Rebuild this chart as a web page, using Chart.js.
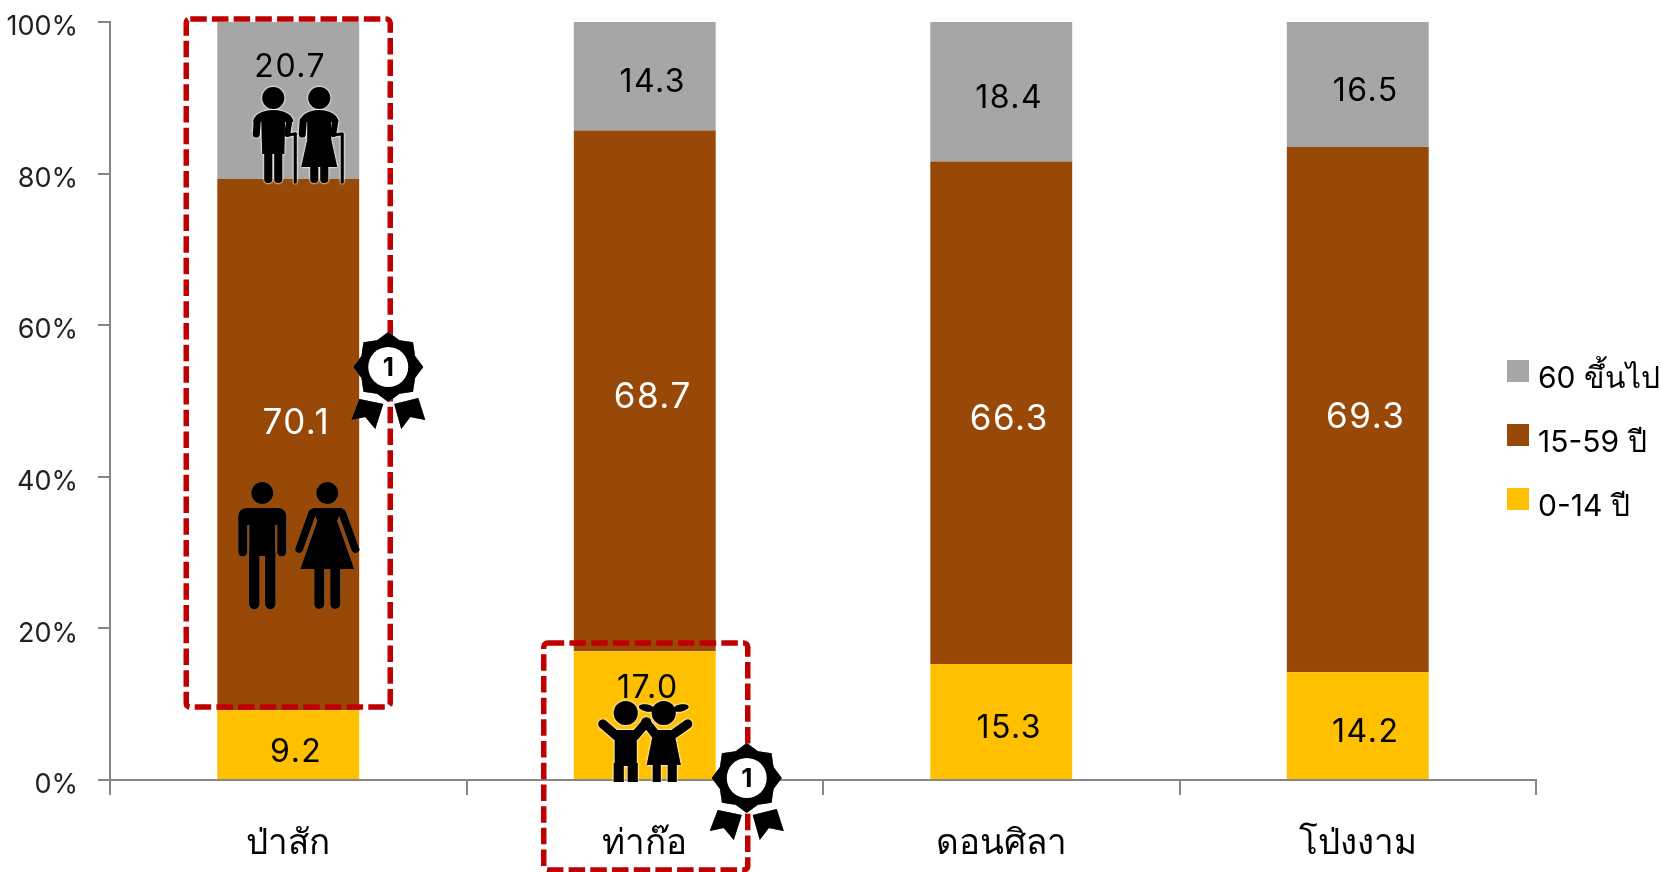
<!DOCTYPE html>
<html>
<head>
<meta charset="utf-8">
<style>
html,body{margin:0;padding:0;background:#fff;overflow:hidden}
#wrap{width:1661px;height:872px}
</style>
<script src="https://cdn.jsdelivr.net/npm/chart.js@4"></script>
</head>
<body>
<div id="wrap"><canvas id="popChart" width="1661" height="872"></canvas></div>
<script>
const districts = ["ป่าสัก","ท่าก๊อ","ดอนศิลา","โป่งงาม"]
const age0to14 = [9.2,17.0,15.3,14.2]
const age15to59 = [70.1,68.7,66.3,69.3]
const age60up = [20.7,14.3,18.4,16.5]
const seriesNames = ["0-14 ปี","15-59 ปี","60 ขึ้นไป"]
const seriesColors = ["#FFC000","#984807","#A6A6A6"]
const labelColors = ["#000","#fff","#000"]
const labelSizes = [32,35,32]

const FONT = 'Inter,"Noto Sans","DejaVu Sans",sans-serif'

// label nudges off the segment centre, [series][category], px
const nudge = [
  [[8,8],[3,-27],[8,7],[8,7]],
  [[8,-21],[8,7],[8,7],[8,8]],
  [[2,-33],[8,6],[8,7],[8,7]]
]

function limb(ctx,x1,y1,x2,y2,w){
  ctx.lineWidth = w
  ctx.lineCap = "round"
  ctx.beginPath()
  ctx.moveTo(x1,y1)
  ctx.lineTo(x2,y2)
  ctx.stroke()
}

function head(ctx,x,y,r){
  ctx.beginPath()
  ctx.arc(x,y,r,0,Math.PI*2)
  ctx.fill()
}

function poly(ctx,pts){
  ctx.beginPath()
  pts.forEach((p,i)=> i ? ctx.lineTo(p[0],p[1]) : ctx.moveTo(p[0],p[1]))
  ctx.closePath()
  ctx.fill()
}

// draw an icon on its own layer so the pale outline goes round the whole shape
function halo(ctx,color,blur,fn){
  let layer = document.createElement("canvas")
  layer.width = ctx.canvas.width
  layer.height = ctx.canvas.height
  let c = layer.getContext("2d")
  c.fillStyle = "#000"
  c.strokeStyle = "#000"
  fn(c)
  ctx.save()
  ctx.shadowColor = color
  ctx.shadowBlur = blur
  ctx.drawImage(layer,0,0)
  ctx.drawImage(layer,0,0)
  ctx.restore()
}

// adult pair, x/y = man's head
function drawAdults(ctx,x,y){
  head(ctx,x,y,11)
  ctx.beginPath()
  ctx.roundRect(x-24,y+15,48,17,8)
  ctx.fill()
  ctx.fillRect(x-13,y+25,26,38)
  limb(ctx,x-19.5,y+25,x-19.5,y+59,9)
  limb(ctx,x+19.5,y+25,x+19.5,y+59,9)
  limb(ctx,x-8,y+60,x-8,y+111,10.5)
  limb(ctx,x+8,y+60,x+8,y+111,10.5)
  let w = x+65
  head(ctx,w,y,11)
  poly(ctx,[[w-15,y+15],[w+15,y+15],[w+10,y+28],[w+27,y+76],[w-27,y+76],[w-10,y+28]])
  limb(ctx,w-15,y+20,w-28,y+56,8)
  limb(ctx,w+15,y+20,w+28,y+56,8)
  limb(ctx,w-8,y+74,w-8,y+111,10)
  limb(ctx,w+8,y+74,w+8,y+111,10)
}

// elderly pair with canes
function drawElders(ctx,x,y){
  head(ctx,x,y,11)
  ctx.beginPath()
  ctx.ellipse(x,y+24,20,12,0,Math.PI,0)
  ctx.fill()
  poly(ctx,[[x-12,y+20],[x+12,y+20],[x+11,y+56],[x-11,y+56]])
  limb(ctx,x-16,y+23,x-17,y+36,7)
  limb(ctx,x+16,y+23,x+14,y+36,6)
  limb(ctx,x+14,y+37,x+22,y+36,3)
  limb(ctx,x-5,y+52,x-5,y+81,8)
  limb(ctx,x+5,y+52,x+5,y+81,8)
  limb(ctx,x+22,y+36,x+22,y+84,3)
  let w = x+46
  head(ctx,w,y,11)
  ctx.beginPath()
  ctx.ellipse(w,y+24,19,12,0,Math.PI,0)
  ctx.fill()
  poly(ctx,[[w-12,y+20],[w+12,y+20],[w+12,y+42],[w+18,y+69],[w-18,y+69],[w-12,y+42]])
  limb(ctx,w-16,y+23,w-17,y+36,7)
  limb(ctx,w+16,y+23,w+14,y+36,6)
  limb(ctx,w+14,y+37,w+22,y+36,3)
  limb(ctx,w-5,y+67,w-5,y+81,8)
  limb(ctx,w+5,y+67,w+5,y+81,8)
  limb(ctx,w+23,y+36,w+23,y+84,3)
}

// boy and girl with their arms up
function drawKids(ctx,x,y){
  head(ctx,x,y,12)
  ctx.fillRect(x-11,y+17,22,36)
  limb(ctx,x-9,y+23,x-23,y+11,9)
  limb(ctx,x+9,y+23,x+21,y+9,9)
  ctx.fillRect(x-12,y+50,10,19)
  ctx.fillRect(x+2,y+50,10,19)
  let g = x+38
  head(ctx,g,y,12)
  ctx.beginPath()
  ctx.ellipse(g-17,y-5,8,3.5,0.2,0,Math.PI*2)
  ctx.ellipse(g+17,y-5,8,3.5,-0.2,0,Math.PI*2)
  ctx.fill()
  poly(ctx,[[g-10,y+17],[g+10,y+17],[g+17,y+52],[g-17,y+52]])
  limb(ctx,g-7,y+23,g-18,y+9,9)
  limb(ctx,g+7,y+23,g+24,y+11,9)
  ctx.fillRect(g-11,y+50,8,19)
  ctx.fillRect(g+4,y+50,9,19)
}

function drawMedal(ctx,x,y){
  poly(ctx,[[x-29,y+32],[x-5,y+37],[x-13,y+62],[x-23,y+50],[x-37,y+53]])
  poly(ctx,[[x+6,y+37],[x+30,y+31],[x+37,y+53],[x+22,y+50],[x+13,y+62]])
  ctx.beginPath()
  for(let i=0;i<16;i++){
    let a = -Math.PI/2 + i*Math.PI/8
    let r = i%2 ? 29 : 35
    let px = x+Math.cos(a)*r, py = y+Math.sin(a)*r
    i ? ctx.lineTo(px,py) : ctx.moveTo(px,py)
  }
  ctx.closePath()
  ctx.fill()
  ctx.fillStyle = "#fff"
  head(ctx,x,y,20)
  ctx.fillStyle = "#000"
  ctx.font = "bold 26px "+FONT
  ctx.textAlign = "center"
  ctx.textBaseline = "middle"
  ctx.fillText("1",x,y+1)
}

function dashedBox(ctx,x,y,w,h){
  ctx.save()
  ctx.strokeStyle = "#C00000"
  ctx.lineWidth = 5.5
  ctx.setLineDash([16.5,5.2])
  ctx.beginPath()
  ctx.roundRect(x,y,w,h,4)
  ctx.stroke()
  ctx.restore()
}

const overlays = {
  id:"overlays",
  afterDatasetsDraw(chart){
    let ctx = chart.ctx
    let xs = chart.scales.x, ys = chart.scales.y

    // value labels
    ctx.save()
    ctx.letterSpacing = "1.5px"
    ctx.textAlign = "center"
    ctx.textBaseline = "middle"
    chart.data.datasets.forEach((ds,i)=>{
      ctx.font = labelSizes[i]+"px "+FONT
      chart.getDatasetMeta(i).data.forEach((bar,j)=>{
        let mid = (bar.y+bar.base)/2
        ctx.fillStyle = labelColors[i]
        ctx.fillText(ds.data[j].toFixed(1),bar.x+nudge[i][j][0],mid+nudge[i][j][1])
      })
    })
    ctx.restore()

    let c0 = xs.getPixelForValue(0), c1 = xs.getPixelForValue(1)
    let y0 = ys.getPixelForValue(0)

    halo(ctx,"#fff",2.5,c=>drawElders(c,c0-15,y0-682))
    halo(ctx,"rgba(255,255,255,.6)",1.5,c=>drawAdults(c,c0-26,y0-287))
    halo(ctx,"#fff",2.5,c=>drawKids(c,c1-19,y0-67))

    dashedBox(ctx,c0-102,ys.getPixelForValue(100)-3,204,688)
    dashedBox(ctx,c1-101,y0-137,204,227)

    halo(ctx,"rgba(255,255,255,.6)",1.5,c=>drawMedal(c,c0+100,y0-413))
    halo(ctx,"rgba(255,255,255,.6)",1.5,c=>drawMedal(c,c1+102,y0-2))

    // legend, top series first
    ctx.save()
    ctx.font = "30px "+FONT
    ctx.textAlign = "left"
    ctx.textBaseline = "middle"
    let lx = 1507, ly = [371,435,499]
    ;[2,1,0].forEach((s,k)=>{
      ctx.fillStyle = seriesColors[s]
      ctx.fillRect(lx,ly[k]-11,22,22)
      ctx.fillStyle = "#000"
      ctx.fillText(seriesNames[s],lx+31,ly[k]+8)
    })
    ctx.restore()
  }
}

new Chart(document.getElementById("popChart"),{
  type:"bar",
  data:{
    labels:districts,
    datasets:[
      {label:seriesNames[0],data:age0to14,backgroundColor:seriesColors[0]},
      {label:seriesNames[1],data:age15to59,backgroundColor:seriesColors[1]},
      {label:seriesNames[2],data:age60up,backgroundColor:seriesColors[2]}
    ]
  },
  options:{
    responsive:false,
    animation:false,
    events:[],
    categoryPercentage:1,
    barPercentage:0.398,
    layout:{padding:{top:22,right:125,left:0,bottom:0}},
    plugins:{legend:{display:false},tooltip:{enabled:false}},
    scales:{
      x:{
        stacked:true,
        afterFit(s){s.height=92},
        grid:{offset:true,drawOnChartArea:false,drawTicks:true,tickLength:15,color:"#868686",lineWidth:2},
        border:{color:"#868686",width:2},
        ticks:{color:"#000",font:{family:FONT,size:35},padding:27,maxRotation:0}
      },
      y:{
        stacked:true,
        min:0,max:100,
        afterFit(s){s.width=110;s.paddingTop=0;s.paddingBottom=0},
        grid:{drawOnChartArea:false,drawTicks:true,tickLength:12,color:"#868686",lineWidth:2},
        border:{color:"#868686",width:2},
        ticks:{stepSize:20,color:"#222",font:{family:FONT,size:27},padding:20,labelOffset:5,callback:v=>v+"%"}
      }
    }
  },
  plugins:[overlays]
})
</script>
</body>
</html>
